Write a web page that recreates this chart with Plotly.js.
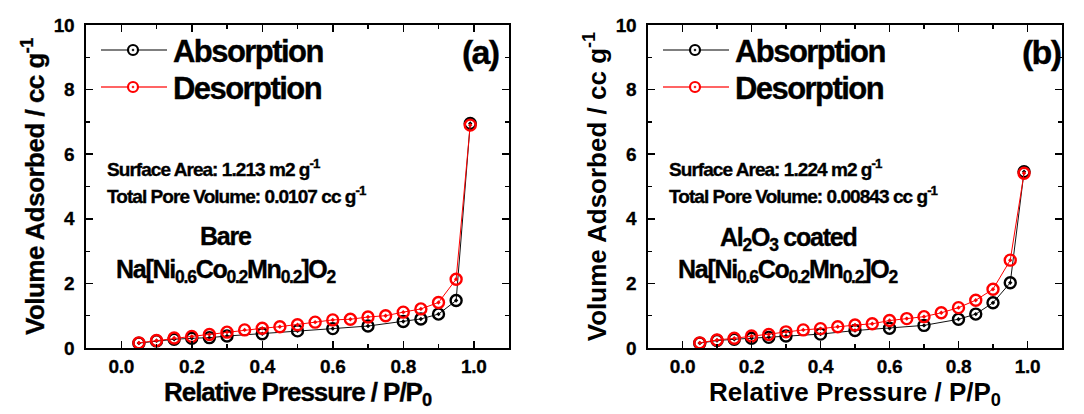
<!DOCTYPE html>
<html><head><meta charset="utf-8">
<script src="https://cdn.plot.ly/plotly-3.0.1.min.js"></script>
<style>
html,body{margin:0;padding:0;background:#fff}
#chart{width:1084px;height:414px}
.annotation-text{letter-spacing:-0.05em;stroke:#000;stroke-width:0.35px}
.xtitle{letter-spacing:-0.04em;stroke:#000;stroke-width:0.35px}
.ytitle{letter-spacing:-0.02em;stroke:#000;stroke-width:0.35px}
.xtick text,.ytick text,.x2tick text,.y2tick text{letter-spacing:-0.02em;stroke:#000;stroke-width:0.3px}
</style>
</head><body><div id="chart"></div>
<script>
// ---- data ----
const pressureAbs = [0.05,0.10,0.15,0.20,0.25,0.30,0.40,0.50,0.60,0.70,0.80,0.85,0.90,0.95,0.99];
const pressureDes = [0.05,0.10,0.15,0.20,0.25,0.30,0.35,0.40,0.45,0.50,0.55,0.60,0.65,0.70,0.75,0.80,0.85,0.90,0.95,0.99];
const bareAbs    = [0.15,0.22,0.27,0.30,0.32,0.37,0.44,0.53,0.60,0.68,0.82,0.90,1.05,1.47,6.95];
const bareDes    = [0.16,0.23,0.31,0.36,0.42,0.49,0.56,0.61,0.66,0.72,0.80,0.87,0.89,0.96,1.00,1.11,1.21,1.41,2.13,6.90];
const coatedAbs  = [0.15,0.23,0.27,0.30,0.33,0.37,0.43,0.54,0.61,0.70,0.89,1.05,1.40,2.02,5.46];
const coatedDes  = [0.16,0.25,0.30,0.37,0.42,0.50,0.56,0.60,0.66,0.71,0.75,0.85,0.91,0.97,1.09,1.25,1.48,1.82,2.72,5.41];
const seriesNames = ['Absorption','Desorption'];
const xTickVals = [0.0,0.2,0.4,0.6,0.8,1.0];
const xTickText = ['0.0','0.2','0.4','0.6','0.8','1.0'];
const yTickVals = [0,2,4,6,8,10];
const yTickText = ['0','2','4','6','8','10'];
const panelLabels = ['(a)','(b)'];
const surfaceText = ['Surface Area: 1.213 m2 g<sup>-1</sup>','Surface Area: 1.224 m2 g<sup>-1</sup>'];
const poreText = ['Total Pore Volume: 0.0107 cc g<sup>-1</sup>','Total Pore Volume: 0.00843 cc g<sup>-1</sup>'];
const sampleText = ['Bare','Al<sub>2</sub>O<sub>3</sub> coated'];
const formulaText = 'Na[Ni<sub>0.6</sub>Co<sub>0.2</sub>Mn<sub>0.2</sub>]O<sub>2</sub>';

// ---- style ----
const FONT = 'Liberation Sans, Arial, Helvetica, sans-serif';
const W = 1084, H = 414;
const px = x => x / W, py = y => 1 - y / H;
const colors = ['#000000', '#ff0000'];

function trace(x, y, i, ax) {
  return {
    x: x, y: y, name: seriesNames[i], type: 'scatter', mode: 'lines+markers',
    xaxis: ax.x, yaxis: ax.y, showlegend: false,
    line: {color: i === 0 ? '#111' : '#ff0000', width: 1},
    marker: {symbol: 'circle-open-dot', size: 11, color: colors[i], line: {width: 2.4, color: colors[i]}}
  };
}

const data = [
  trace(pressureAbs, bareAbs, 0, {x:'x', y:'y'}),
  trace(pressureDes, bareDes, 1, {x:'x', y:'y'}),
  trace(pressureAbs, coatedAbs, 0, {x:'x2', y:'y2'}),
  trace(pressureDes, coatedDes, 1, {x:'x2', y:'y2'})
];

function xaxis(domain, anchor) {
  return {
    domain: domain, anchor: anchor, range: [-0.1, 1.1],
    tickmode: 'array', tickvals: xTickVals, ticktext: xTickText,
    ticks: 'inside', ticklen: 7, tickwidth: 1.5, tickcolor: '#000',
    minor: {ticks: 'inside', ticklen: 4, tickwidth: 1.2, tickcolor: '#000', dtick: 0.1, tick0: 0, showgrid: false},
    showline: true, linewidth: 2, linecolor: '#000', mirror: 'ticks',
    showgrid: false, zeroline: false, automargin: false,
    tickfont: {family: FONT, size: 19, color: '#000', weight: 'bold'},
    ticklabelstandoff: 0,
    title: {text: 'Relative Pressure / P/P<sub>0</sub>', font: {family: FONT, size: 26, color: '#000', weight: 'bold'}, standoff: 4}
  };
}
function yaxis(anchor) {
  return {
    domain: [py(348), py(25)], anchor: anchor, range: [0, 10],
    tickmode: 'array', tickvals: yTickVals, ticktext: yTickText,
    ticks: 'inside', ticklen: 7, tickwidth: 1.5, tickcolor: '#000',
    minor: {ticks: 'inside', ticklen: 4, tickwidth: 1.2, tickcolor: '#000', dtick: 1, tick0: 0, showgrid: false},
    showline: true, linewidth: 2, linecolor: '#000', mirror: 'ticks',
    showgrid: false, zeroline: false, automargin: false,
    tickfont: {family: FONT, size: 19, color: '#000', weight: 'bold'},
    ticklabelstandoff: 6,
    title: {text: 'Volume Adsorbed / cc g<sup>-1</sup>', font: {family: FONT, size: 26, color: '#000', weight: 'bold'}, standoff: 2}
  };
}

const annotations = [];
const shapes = [];
[0, 1].forEach(p => {
  const dx = p * 562;
  const ann = (x, y, text, size, xanchor) => annotations.push({
    xref: 'paper', yref: 'paper', x: px(x + dx), y: py(y), text: text, showarrow: false,
    xanchor: xanchor, yanchor: 'middle',
    font: {family: FONT, size: size, color: '#000', weight: 'bold'}
  });
  // legend (drawn manually to match the long sample lines)
  [50, 87].forEach((ly, i) => {
    shapes.push({type: 'line', xref: 'paper', yref: 'paper', x0: px(101 + dx), x1: px(167 + dx), y0: py(ly), y1: py(ly),
      line: {color: i === 0 ? '#555' : '#ff3030', width: 1.3}});
    shapes.push({type: 'circle', xref: 'paper', yref: 'paper', x0: px(128 + dx), x1: px(138 + dx), y0: py(ly + 5), y1: py(ly - 5),
      line: {color: colors[i], width: 2.2}, fillcolor: '#fff'});
    shapes.push({type: 'circle', xref: 'paper', yref: 'paper', x0: px(132 + dx), x1: px(134 + dx), y0: py(ly + 1), y1: py(ly - 1),
      line: {color: colors[i], width: 0.5}, fillcolor: colors[i]});
    ann(171, ly + 1, seriesNames[i], 31, 'left');
  });
  ann(501, 52, panelLabels[p], 34, 'right');
  ann(105, 168, surfaceText[p], 19, 'left');
  ann(105, 195, poreText[p], 19, 'left');
  ann(226, p === 0 ? 236 : 239, sampleText[p], 25, 'center');
  ann(226, 271, formulaText, 25, 'center');
});

const layout = {
  width: W, height: H,
  margin: {l: 0, r: 0, t: 0, b: 0},
  paper_bgcolor: '#fff', plot_bgcolor: '#fff',
  showlegend: false,
  xaxis: xaxis([px(86), px(509)], 'y'),
  yaxis: yaxis('x'),
  xaxis2: xaxis([px(648), px(1062)], 'y2'),
  yaxis2: yaxis('x2'),
  annotations: annotations,
  shapes: shapes
};

Plotly.newPlot('chart', data, layout, {displayModeBar: false, staticPlot: true});
</script>
</body></html>
